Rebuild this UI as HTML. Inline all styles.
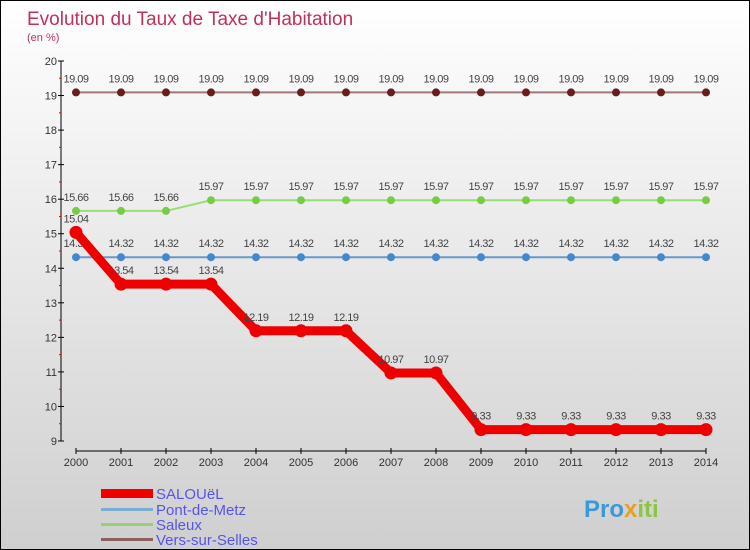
<!DOCTYPE html>
<html><head><meta charset="utf-8"><style>
body{margin:0}
#c{width:750px;height:550px;position:relative;box-sizing:border-box;border:1px solid #000;background:linear-gradient(#ffffff,#cfcfcf);font-family:"Liberation Sans",sans-serif;overflow:hidden}
svg text{font-family:"Liberation Sans",sans-serif}
</style></head><body>
<div id="c">
<svg width="750" height="550" id="s">
<text x="26" y="24" font-size="19" fill="#c0315a">Evolution du Taux de Taxe d'Habitation</text>
<text x="26" y="40" font-size="11" fill="#c0315a">(en %)</text>
<g id="axes"></g><g id="series"></g>
<g>
<rect x="100" y="488" width="52" height="9" fill="#e00"/>
<text x="155" y="498" font-size="15" fill="#5555ee">SALOUëL</text>
<rect x="100" y="507" width="52" height="3" fill="#7aaed0"/>
<text x="155" y="514" font-size="15" fill="#5555ee">Pont-de-Metz</text>
<rect x="100" y="522" width="52" height="3" fill="#99d077"/>
<text x="155" y="529" font-size="15" fill="#5555ee">Saleux</text>
<rect x="100" y="537" width="52" height="3" fill="#8a6060"/>
<text x="155" y="544" font-size="15" fill="#5555ee">Vers-sur-Selles</text>
</g>
<text x="583" y="516" font-size="24" font-weight="bold" fill="#3a9ad9">Pro<tspan fill="#e8a020">x</tspan><tspan fill="#8cc63f">iti</tspan></text>
</svg></div>
<script>
const years=[2000,2001,2002,2003,2004,2005,2006,2007,2008,2009,2010,2011,2012,2013,2014];
const salouel=[15.04,13.54,13.54,13.54,12.19,12.19,12.19,10.97,10.97,9.33,9.33,9.33,9.33,9.33,9.33];
const pontDeMetz=[14.32,14.32,14.32,14.32,14.32,14.32,14.32,14.32,14.32,14.32,14.32,14.32,14.32,14.32,14.32];
const saleux=[15.66,15.66,15.66,15.97,15.97,15.97,15.97,15.97,15.97,15.97,15.97,15.97,15.97,15.97,15.97];
const versSurSelles=[19.09,19.09,19.09,19.09,19.09,19.09,19.09,19.09,19.09,19.09,19.09,19.09,19.09,19.09,19.09];
const yTicks=[9,10,11,12,13,14,15,16,17,18,19,20];
const NS="http://www.w3.org/2000/svg";
const X=i=>75+i*(630/(years.length-1));
const Y=v=>60+(20-v)*(380/11);
function mk(t,a,p){const e=document.createElementNS(NS,t);for(const k in a)e.setAttribute(k,a[k]);p.appendChild(e);return e;}
const ax=document.getElementById('axes'),sg=document.getElementById('series');
let l=mk('line',{x1:60,y1:60,x2:60,y2:440,stroke:'#000'},ax);


l=mk('line',{x1:75,y1:450,x2:705,y2:450,stroke:'#000'},ax);


yTicks.forEach(v=>{
 mk('line',{x1:57,x2:63,y1:Y(v),y2:Y(v),stroke:'#000'},ax);
 if(v<20) mk('line',{x1:58,x2:60,y1:Y(v+0.5),y2:Y(v+0.5),stroke:'#e00'},ax);
 const t=mk('text',{x:56,y:Y(v)+4,'font-size':11,fill:'#333','text-anchor':'end'},ax);t.textContent=v;
 
 
});
years.forEach((y,i)=>{
 mk('line',{x1:X(i),x2:X(i),y1:447,y2:453,stroke:'#000'},ax);
 const t=mk('text',{x:X(i),y:465,'font-size':11,fill:'#333','text-anchor':'middle'},ax);t.textContent=y;
 
 
});
function series(vals,color,w,r,name,dot){
 const p=mk('polyline',{points:vals.map((v,i)=>X(i)+','+Y(v)).join(' '),fill:'none',stroke:color,'stroke-width':w,'stroke-linejoin':'round'},sg);
 
 
 vals.forEach((v,i)=>{
  const c=mk('circle',{cx:X(i),cy:Y(v),r:r,fill:dot,stroke:dot},sg);
  
  
  const t=mk('text',{x:X(i),y:Y(v)-10,'font-size':11,fill:'#444','text-anchor':'middle','letter-spacing':'-0.5'},sg);
  t.textContent=v.toFixed(2).replace(/0$/,'').replace(/\.$/,'');
  
  
 });
}
series(versSurSelles,'#a07878',2,3.5,'vers-sur-selles','#6b1d1d');
series(saleux,'#99dd77',2,3.5,'saleux','#77cc44');
series(pontDeMetz,'#6699cc',2,3.5,'pont-de-metz','#4488cc');
series(salouel,'#ee0000',9,6,'salouel','#ee0000');
</script>
</body></html>
